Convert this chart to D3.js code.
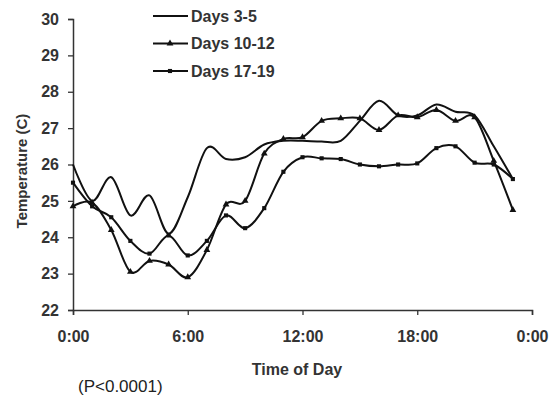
<!DOCTYPE html>
<html>
<head>
<meta charset="utf-8">
<script src="https://cdn.jsdelivr.net/npm/d3@7"></script>
<style>
body { margin: 0; background: #fff; }
text { font-family: "Liberation Sans", Arial, sans-serif; }
</style>
</head>
<body>
<div class="chart"></div>
<script>
var w = 549;
var h = 402;

// hourly readings, 0:00 .. 23:00
var hours = d3.range(0, 24);
var days3to5 = [26.0, 25.0, 25.65, 24.6, 25.15, 24.1, 25.1, 26.45, 26.15, 26.2, 26.55, 26.65,
                26.65, 26.63, 26.65, 27.2, 27.75, 27.35, 27.35, 27.65, 27.45, 27.35, 26.5, 25.6];
var days10to12 = [24.85, 24.95, 24.2, 23.05, 23.35, 23.25, 22.9, 23.65, 24.9, 25.0, 26.3, 26.7,
                  26.75, 27.2, 27.27, 27.27, 26.95, 27.35, 27.3, 27.5, 27.2, 27.3, 26.1, 24.75];
var days17to19 = [25.5, 24.85, 24.55, 23.9, 23.55, 24.05, 23.5, 23.9, 24.6, 24.25, 24.8, 25.8,
                  26.2, 26.17, 26.15, 26.0, 25.95, 26.0, 26.03, 26.45, 26.5, 26.05, 26.0, 25.6];

var seriesNames = ["Days 3-5", "Days 10-12", "Days 17-19"];
var xTickValues = [0, 6, 12, 18, 24];
var xTickLabels = ["0:00", "6:00", "12:00", "18:00", "0:00"];
var yTickValues = d3.range(22, 31);

var series = [
    { name: seriesNames[0], values: days3to5, marker: null },
    { name: seriesNames[1], values: days10to12, marker: d3.symbolTriangle },
    { name: seriesNames[2], values: days17to19, marker: d3.symbolSquare }
];

var x = d3.scaleLinear().domain([0, 24]).range([73, 532]);
var y = d3.scaleLinear().domain([22, 30]).range([310, 19]);

var svg = d3.select(".chart")
    .append("svg")
    .attr("width", w)
    .attr("height", h);

// Axes
var yAxis = svg.append("g")
    .attr("transform", "translate(73,0)")
    .call(d3.axisLeft(y).tickValues(yTickValues).tickSize(5).tickPadding(9).tickFormat(d3.format("d")));

var xAxis = svg.append("g")
    .attr("transform", "translate(0,310)")
    .call(d3.axisBottom(x).tickValues(xTickValues).tickSize(5).tickPadding(16)
        .tickFormat((d, i) => xTickLabels[i]));

[xAxis, yAxis].forEach(a => {
    a.select(".domain").attr("stroke", "#333").attr("stroke-width", 1.5);
    a.selectAll(".tick line").attr("stroke", "#333").attr("stroke-width", 1.3);
    a.selectAll(".tick text")
        .attr("fill", "#333")
        .style("font-size", "16px")
        .style("font-weight", "bold");
});

// Axis titles
svg.append("text")
    .attr("x", 297)
    .attr("y", 375)
    .attr("text-anchor", "middle")
    .attr("fill", "#333")
    .style("font-size", "16px")
    .style("font-weight", "bold")
    .text("Time of Day");

svg.append("text")
    .attr("transform", "translate(27,171) rotate(-90)")
    .attr("text-anchor", "middle")
    .attr("fill", "#333")
    .style("font-size", "15px")
    .style("font-weight", "bold")
    .text("Temperature (C)");

svg.append("text")
    .attr("x", 78)
    .attr("y", 392)
    .attr("fill", "#222")
    .style("font-size", "17px")
    .text("(P<0.0001)");

// Lines
var line = d3.line()
    .x((d, i) => x(hours[i]))
    .y(d => y(d))
    .curve(d3.curveCardinal.tension(0));

var markerSize = m => m === d3.symbolSquare ? 17 : 20;

var groups = svg.selectAll(".series")
    .data(series)
    .enter()
    .append("g")
    .attr("class", "series");

groups.append("path")
    .attr("d", d => line(d.values))
    .attr("fill", "none")
    .attr("stroke", "#111")
    .attr("stroke-width", 2);

groups.filter(d => d.marker)
    .each(function (s) {
        var sym = d3.symbol().type(s.marker).size(markerSize(s.marker));
        d3.select(this).selectAll("path.mk")
            .data(s.values)
            .enter()
            .append("path")
            .attr("class", "mk")
            .attr("d", sym)
            .attr("transform", (d, i) => "translate(" + x(hours[i]) + "," + y(d) + ")")
            .attr("fill", "#111");
    });

// Legend
var legend = svg.selectAll(".legend")
    .data(series)
    .enter()
    .append("g")
    .attr("class", "legend")
    .attr("transform", (d, i) => "translate(153," + (16 + i * 27.5) + ")");

legend.append("line")
    .attr("x1", 0)
    .attr("x2", 35)
    .attr("stroke", "#111")
    .attr("stroke-width", 2);

legend.filter(d => d.marker)
    .append("path")
    .attr("d", d => d3.symbol().type(d.marker).size(markerSize(d.marker))())
    .attr("transform", "translate(17,0)")
    .attr("fill", "#111");

legend.append("text")
    .attr("x", 38)
    .attr("y", 5.5)
    .attr("fill", "#333")
    .style("font-size", "16px")
    .style("font-weight", "bold")
    .text(d => d.name);
</script>
</body>
</html>
